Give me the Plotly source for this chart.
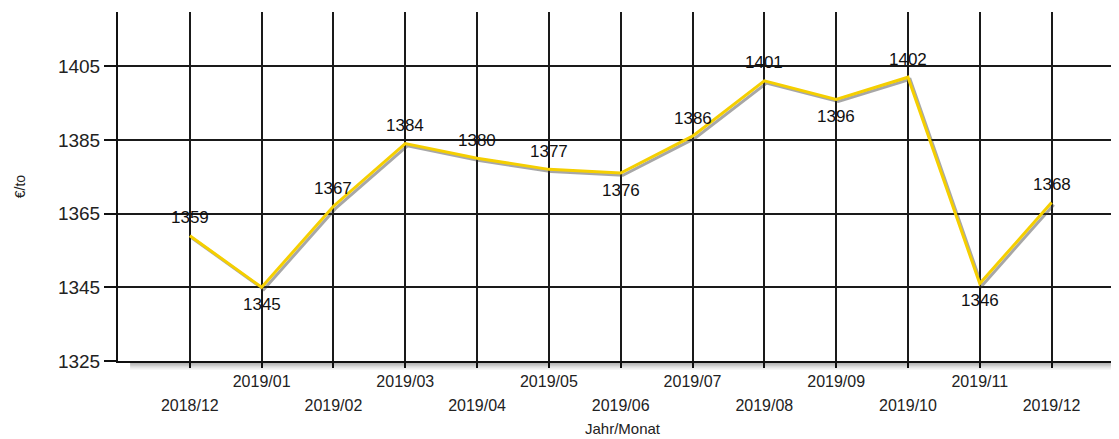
import plotly.graph_objects as go

months = ["2018/12", "2019/01", "2019/02", "2019/03", "2019/04", "2019/05", "2019/06",
          "2019/07", "2019/08", "2019/09", "2019/10", "2019/11", "2019/12"]
prices = [1359, 1345, 1367, 1384, 1380, 1377, 1376, 1386, 1401, 1396, 1402, 1346, 1368]
label_below = [False, True, False, False, False, False, True, False, False, True, False, True, False]
y_ticks = [1325, 1345, 1365, 1385, 1405]

idx = list(range(len(months)))
FONT = "Liberation Sans, Arial, sans-serif"

fig = go.Figure()

# line shadow
fig.add_trace(go.Scatter(
    x=[i + 0.03 for i in idx], y=[p - 0.6 for p in prices],
    mode="lines", line=dict(color="rgba(60,60,60,0.45)", width=3),
    hoverinfo="skip", showlegend=False))

fig.add_trace(go.Scatter(
    x=idx, y=prices, mode="lines",
    line=dict(color="#F5CF00", width=3),
    showlegend=False))

# invisible trace for the second (lower-row) x axis
fig.add_trace(go.Scatter(x=idx, y=prices, xaxis="x2", mode="lines",
                         line=dict(color="rgba(0,0,0,0)"), hoverinfo="skip",
                         showlegend=False))

for i, p, below in zip(idx, prices, label_below):
    fig.add_annotation(x=i, y=p, text=str(p), showarrow=False,
                       yshift=-17 if below else 18, yanchor="middle",
                       font=dict(family=FONT, size=17, color="#111111"))

upper = [m if i % 2 == 1 else "" for i, m in enumerate(months)]
lower = [m for i, m in enumerate(months) if i % 2 == 0]

xr = [-1, 13.05]
fig.update_layout(
    width=1119, height=439,
    margin=dict(l=110, r=0, t=4, b=86),
    paper_bgcolor="white", plot_bgcolor="white",
    xaxis=dict(range=xr, tickvals=idx, ticktext=upper, showgrid=True, automargin=False,
               gridcolor="#1a1a1a", gridwidth=1.5, zeroline=False,
               showline=True, linecolor="#111111", linewidth=2,
               ticks="outside", ticklen=5, tickcolor="#111111", tickwidth=1.5,
               tickfont=dict(family=FONT, size=16, color="#222222"),
               title=dict(text="Jahr/Monat", standoff=34,
                          font=dict(family=FONT, size=15, color="#222222"))),
    xaxis2=dict(range=xr, overlaying="x", side="bottom", anchor="y", automargin=False,
                tickvals=[i for i in idx if i % 2 == 0], ticktext=lower,
                showgrid=False, zeroline=False, showline=False, ticks="",
                ticklabelstandoff=33,
                tickfont=dict(family=FONT, size=16, color="#222222")),
    yaxis=dict(range=[1325, 1419.7], tickvals=y_ticks, showgrid=True, automargin=False,
               gridcolor="#1a1a1a", gridwidth=1.5, zeroline=False,
               showline=True, linecolor="#111111", linewidth=2,
               ticks="outside", ticklen=12, tickcolor="#111111", tickwidth=1.5,
               tickfont=dict(family=FONT, size=19, color="#222222"),
               title=dict(text="€/to", standoff=29,
                          font=dict(family=FONT, size=14, color="#222222"))),
)

# axis shadow (gradient approximation)
for k, op in enumerate([0.45, 0.35, 0.26, 0.18, 0.11, 0.06]):
    fig.add_shape(type="rect", xref="paper", yref="paper",
                  x0=0.012, x1=1.0, y0=-0.004 - 0.0035 * (k + 1), y1=-0.004 - 0.0035 * k,
                  line=dict(width=0), fillcolor=f"rgba(60,60,60,{op})", layer="below")

fig.write_html("out.html")
